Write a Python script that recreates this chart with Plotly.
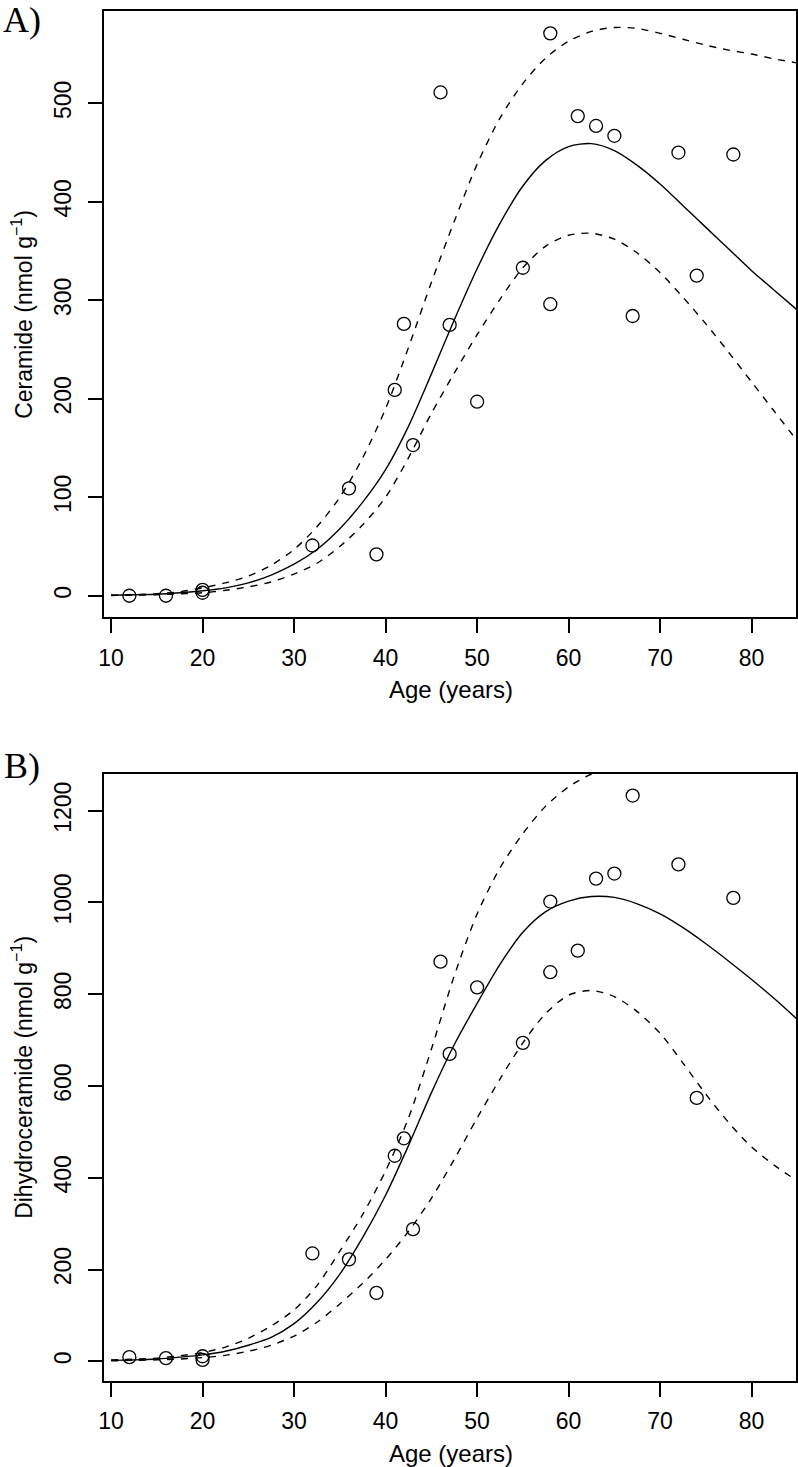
import plotly.graph_objects as go

# ---- data ----
ages = [12, 16, 20, 20, 32, 36, 39, 41, 42, 43, 46, 47, 50, 55, 58, 58, 61, 63, 65, 67, 72, 74, 78]
ceramide = [0, 0, 6, 3, 51, 109, 42, 209, 276, 153, 511, 275, 197, 333, 571, 296, 487, 477, 467, 284, 450, 325, 448]
dihydro = [9, 7, 11, 3, 235, 222, 149, 448, 486, 288, 871, 670, 815, 694, 1002, 848, 895, 1052, 1063, 1233, 1083, 574, 1010]

curve_age = [10, 12.5, 15, 17.5, 20, 22.5, 25, 27.5, 30, 32.5, 35, 37.5, 40, 42.5, 45, 47.5,
             50, 52.5, 55, 57.5, 60, 62.5, 65, 67.5, 70, 72.5, 75, 77.5, 80, 82.5, 85]
cer_fit = [0.5, 1, 1.5, 3, 5, 8, 13, 21, 32, 47, 68, 95, 128, 172, 225, 280,
           332, 378, 416, 442, 456, 459, 452, 437, 418, 396, 374, 352, 330, 310, 290]
cer_hi = [0.5, 1, 2, 4, 8, 13, 20, 31, 47, 70, 100, 140, 190, 252, 318, 380,
          438, 485, 520, 546, 563, 573, 577, 576, 571, 565, 559, 554, 550, 545, 541]
cer_lo = [0.3, 0.6, 1, 2, 3, 5.5, 9, 14, 22, 33, 50, 72, 100, 140, 185, 226,
          265, 301, 333, 355, 366, 368, 362, 348, 328, 303, 276, 247, 217, 187, 157]

dih_fit = [2, 3, 5, 9, 14, 22, 35, 52, 82, 128, 190, 270, 362, 470, 585, 690,
           780, 865, 935, 980, 1003, 1013, 1011, 997, 975, 945, 910, 872, 832, 790, 745]
dih_hi = [3, 4.5, 7, 12, 19, 31, 50, 77, 112, 165, 240, 320, 415, 530, 680, 840,
          975, 1075, 1150, 1210, 1252, 1280, 1298, 1306, 1308, 1306, 1303, 1300, 1298, 1296, 1295]
dih_lo = [1, 2, 3, 5, 8, 13, 22, 35, 55, 85, 125, 170, 222, 283, 355, 440,
          530, 615, 694, 758, 798, 808, 795, 762, 715, 650, 582, 520, 467, 427, 393]

x_ticks = [10, 20, 30, 40, 50, 60, 70, 80]
yA_ticks = [0, 100, 200, 300, 400, 500]
yB_ticks = [0, 200, 400, 600, 800, 1000, 1200]

W, H = 798, 1467
FONT = "Liberation Sans, Arial, sans-serif"
SERIF = "Liberation Serif, Times New Roman, serif"

fig = go.Figure()

def add_panel(xa, ya, y, fit, hi, lo):
    fig.add_trace(go.Scatter(x=curve_age, y=fit, mode="lines", xaxis=xa, yaxis=ya,
                             line=dict(color="black", width=1.4, shape="spline", smoothing=0.8),
                             showlegend=False, hoverinfo="skip"))
    for c in (hi, lo):
        fig.add_trace(go.Scatter(x=curve_age, y=c, mode="lines", xaxis=xa, yaxis=ya,
                                 line=dict(color="black", width=1.4, dash="7px,7px",
                                           shape="spline", smoothing=0.8),
                                 showlegend=False, hoverinfo="skip"))
    fig.add_trace(go.Scatter(x=ages, y=y, mode="markers", xaxis=xa, yaxis=ya,
                             marker=dict(symbol="circle-open", size=13,
                                         color="black", line=dict(color="black", width=1.3)),
                             showlegend=False, cliponaxis=False))

add_panel("x", "y", ceramide, cer_fit, cer_hi, cer_lo)
add_panel("x2", "y2", dihydro, dih_fit, dih_hi, dih_lo)

xdom = [98.7 / W, 797 / W]
domA = [(H - 617) / H, (H - 11) / H]
domB = [(H - 1380.7) / H, (H - 774) / H]

axis_common = dict(showline=True, linecolor="black", linewidth=1.8, mirror=True,
                   ticks="outside", ticklen=14, tickwidth=1.6, tickcolor="black",
                   showgrid=False, zeroline=False,
                   tickfont=dict(family=FONT, size=23, color="black"))

fig.update_layout(
    width=W, height=H, margin=dict(l=0, r=0, t=0, b=0),
    paper_bgcolor="white", plot_bgcolor="white",
    xaxis=dict(domain=xdom, anchor="y", range=[9.21, 84.85], tickvals=x_ticks,
               ticklabelstandoff=5, **axis_common),
    yaxis=dict(domain=domA, anchor="x", range=[-21.6, 593.7], tickvals=yA_ticks,
               tickangle=-90, ticklabelstandoff=8, **axis_common),
    xaxis2=dict(domain=xdom, anchor="y2", range=[9.21, 84.85], tickvals=x_ticks,
                ticklabelstandoff=5, **axis_common),
    yaxis2=dict(domain=domB, anchor="x2", range=[-42.3, 1280], tickvals=yB_ticks,
                tickangle=-90, ticklabelstandoff=8, **axis_common),
)

ann = []
def add_text(text, x, y, size, family=FONT, angle=0, xanchor="center"):
    ann.append(dict(text=text, x=x / W, y=1 - y / H, xref="paper", yref="paper",
                    showarrow=False, textangle=angle, xanchor=xanchor, yanchor="middle",
                    font=dict(family=family, size=size, color="black")))

add_text("Age (years)", 449, 689, 24)
add_text("Age (years)", 449, 1453, 24)
add_text("Ceramide (nmol g<sup>\u22121</sup>)", 16, 314, 23, angle=-90)
add_text("Dihydroceramide (nmol g<sup>\u22121</sup>)", 16, 1077, 23, angle=-90)
add_text("A)", -5, 20, 36, family=SERIF, xanchor="left")
add_text("B)", -4, 766, 36, family=SERIF, xanchor="left")
fig.update_layout(annotations=ann)

fig.write_html("out.html", config={"displayModeBar": False},
               post_script="document.body.style.margin='0px';document.body.style.overflow='hidden';")
